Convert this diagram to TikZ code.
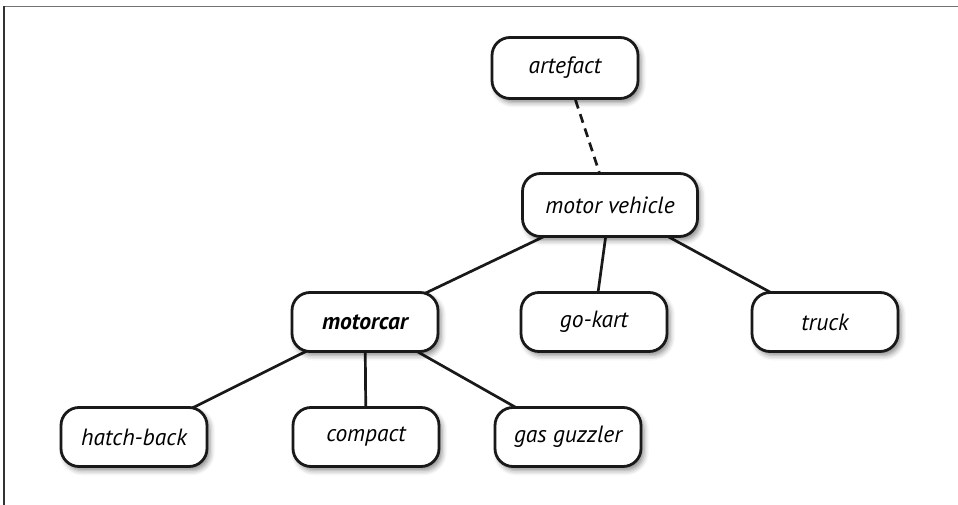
\documentclass[tikz,border=0pt]{standalone}
\usepackage{fontspec}
\setmainfont{PT Sans}
\usetikzlibrary{shadows.blur,backgrounds}
\tikzset{
  box/.style={draw=black!90, line width=2.8pt, rounded corners=18pt, fill=white,
    minimum width=146pt, minimum height=59pt, inner sep=0pt,
    font=\fontsize{23.5}{28}\selectfont\itshape,
    blur shadow={shadow xshift=3pt, shadow yshift=-4pt, shadow blur radius=5pt, shadow opacity=45}},
  link/.style={line width=2.7pt, black!90},
  dashlink/.style={link, dash pattern=on 9pt off 6pt}
}
\begin{document}
\begin{tikzpicture}[x=1pt,y=-1pt]
\useasboundingbox (0,0) rectangle (958,505);
\draw[line width=1.5pt, black!55] (3,6.5) -- (958,6.5);
\draw[line width=2pt, black!80] (4,6) -- (4,505);
\node[box, minimum height=61pt] (art) at (565,68) {artefact};
\node[box, minimum width=175pt, minimum height=63pt] (mv) at (610,205) {motor vehicle};
\node[box] (car) at (365,322) {\bfseries motorcar};
\node[box] (kart) at (594,322) {go-kart};
\node[box] (truck) at (825,322) {truck};
\node[box] (hb) at (134,437) {hatch-back};
\node[box] (comp) at (366,437) {compact};
\node[box] (gg) at (568,437) {gas guzzler};
\begin{scope}[on background layer]
\draw[dashlink] (art) -- (mv);
\draw[link] (mv.center) -- (car.center);
\draw[link] (mv.center) -- (kart.center);
\draw[link] (mv.center) -- (truck.center);
\draw[link] (car.center) -- (hb.center);
\draw[link] (car.center) -- (comp.center);
\draw[link] (car.center) -- (gg.center);
\end{scope}
\end{tikzpicture}
\end{document}
